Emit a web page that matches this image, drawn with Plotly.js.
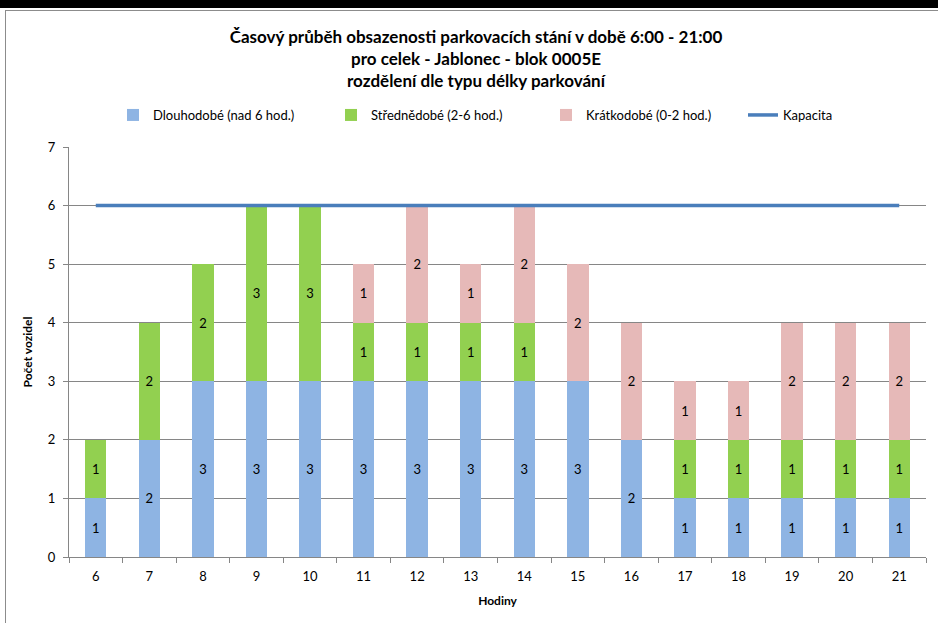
<!DOCTYPE html>
<html><head><meta charset="utf-8">
<script src="https://cdn.plot.ly/plotly-3.0.1.min.js"></script>
<style>
html,body{margin:0;padding:0;background:#fff;}
#wrap{position:relative;width:938px;height:623px;overflow:hidden;}
#chart{position:absolute;left:0;top:0;width:938px;height:623px;}
#band{position:absolute;left:0;top:0;width:938px;height:8px;background:#000;z-index:5;}
#ftop{position:absolute;left:5px;top:10px;width:933px;height:1px;background:#8c8c8c;z-index:5;}
#fleft{position:absolute;left:5px;top:10px;width:1px;height:613px;background:#8c8c8c;z-index:5;}
</style></head>
<body><div id="wrap"><div id="chart"></div><div id="band"></div><div id="ftop"></div><div id="fleft"></div></div>
<script>
const hours = ['6','7','8','9','10','11','12','13','14','15','16','17','18','19','20','21'];
const dlouhodobe = [1,2,3,3,3,3,3,3,3,3,2,1,1,1,1,1];
const strednedobe = [1,2,2,3,3,1,1,1,1,0,0,1,1,1,1,1];
const kratkodobe = [0,0,0,0,0,1,2,1,2,2,2,1,1,2,2,2];
const kapacita = [6,6,6,6,6,6,6,6,6,6,6,6,6,6,6,6];
const names = ['Dlouhodobé (nad 6 hod.)','Střednědobé (2-6 hod.)','Krátkodobé (0-2 hod.)','Kapacita'];
const colors = ['#8eb4e3','#92d050','#e6b9b8','#4a7ebb'];
const FONT = 'Lato, "Open Sans", sans-serif';
const legendKeys = ['legend','legend2','legend3','legend4'];
const legendX = [113,331,546,743];

function lbl(arr){return arr.map(v=>v===0?'':String(v));}
function barTrace(vals,i){
  return {type:'bar',x:hours,y:vals,name:names[i],legend:legendKeys[i],marker:{color:colors[i],line:{width:0}},
    text:lbl(vals),textposition:'inside',insidetextanchor:'middle',textangle:0,
    constraintext:'none',textfont:{family:FONT,size:13,color:'#000'},hoverinfo:'y'};
}
const data=[barTrace(dlouhodobe,0),barTrace(strednedobe,1),barTrace(kratkodobe,2),
  {type:'scatter',mode:'lines',x:hours,y:kapacita,name:names[3],legend:legendKeys[3],line:{color:colors[3],width:3.5}}];

const layout={
  width:938,height:623,barmode:'stack',bargap:0.6,
  paper_bgcolor:'#fff',plot_bgcolor:'#fff',
  margin:{l:69,r:12,t:147,b:66},
  font:{family:FONT,size:13,color:'#000'},
  title:{text:'<b>Časový průběh obsazenosti parkovacích stání v době 6:00 - 21:00<br>pro celek - Jablonec - blok 0005E<br>rozdělení dle typu délky parkování</b>',
    x:0.5075,xanchor:'center',y:1-43/623,yanchor:'top',yref:'container',
    font:{family:FONT,size:17,color:'#000'}},
  xaxis:{type:'category',showline:true,linecolor:'#868686',linewidth:1,
    ticks:'outside',tickson:'boundaries',ticklen:5,tickcolor:'#868686',ticklabelstandoff:7,
    tickfont:{family:FONT,size:13,color:'#000'},showgrid:false,
    title:{text:'<b>Hodiny</b>',font:{family:FONT,size:12,color:'#000'},standoff:14}},
  yaxis:{range:[0,7],dtick:1,showline:true,linecolor:'#868686',linewidth:1,
    ticks:'outside',ticklen:5,tickcolor:'#868686',gridcolor:'#868686',gridwidth:1,ticklabelstandoff:5,
    zeroline:false,tickfont:{family:FONT,size:13,color:'#000'},
    title:{text:'<b>Počet vozidel</b>',font:{family:FONT,size:12,color:'#000'},standoff:12}},
  showlegend:true
};
legendKeys.forEach((k,i)=>{
  layout[k]={orientation:'h',xref:'container',x:legendX[i]/938,xanchor:'left',yref:'container',y:1-115/623,yanchor:'middle',
    font:{family:FONT,size:13,color:'#000'},bgcolor:'rgba(0,0,0,0)',itemwidth:30};
});
Plotly.newPlot('chart',data,layout,{staticPlot:true,displayModeBar:false});
</script></body></html>
